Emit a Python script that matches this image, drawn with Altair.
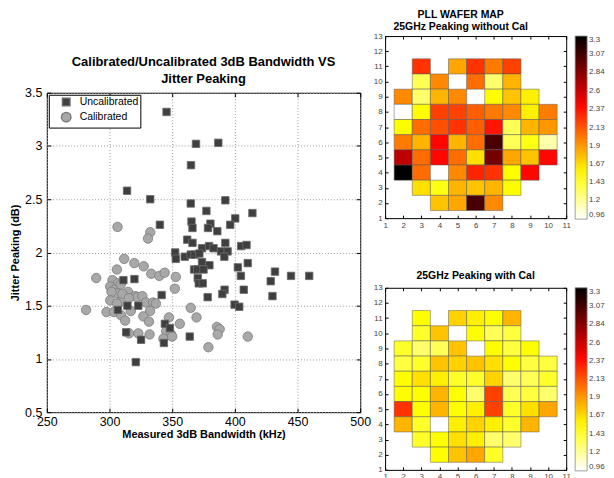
import altair as alt
import pandas as pd

FONT = "Liberation Sans"

# ---------------- scatter data ----------------
uncal_bw = [345.5, 369, 386.8, 365, 314, 332.5, 392.4, 364.8, 377.3, 414, 400.3, 340.2, 365.4, 366.2,
            380.5, 378.6, 386, 396.3, 362, 366.2, 392.4, 405, 409.3, 373.8, 379.4, 383, 352.4, 352.9,
            360, 364.8, 367.8, 371.7, 388.9, 394.2, 391.6, 373.8, 379.7, 410.3, 367.5, 370, 375, 402.4,
            432, 404.8, 444.8, 459.3, 428.6, 370.4, 371.2, 374.4, 391.8, 407.1, 390, 378.3, 430, 399.8,
            403.5, 311.1, 319.9, 341.6, 314.3, 323, 306.7, 344.2, 348.2, 313.3, 325.2, 343.4, 364, 321]
uncal_pk = [3.32, 3.02, 3.03, 2.82, 2.58, 2.50, 2.49, 2.46, 2.39, 2.37, 2.32, 2.26, 2.29, 2.23,
            2.27, 2.23, 2.20, 2.26, 2.12, 2.09, 2.09, 2.06, 2.07, 2.04, 2.06, 2.04, 2.00, 1.94,
            1.96, 1.98, 1.98, 1.99, 2.01, 2.01, 1.96, 1.91, 1.88, 1.90, 1.84, 1.84, 1.84, 1.86,
            1.82, 1.78, 1.78, 1.78, 1.73, 1.76, 1.71, 1.71, 1.65, 1.65, 1.61, 1.58, 1.59, 1.51,
            1.49, 1.74, 1.75, 1.60, 1.50, 1.50, 1.46, 1.33, 1.29, 1.25, 1.18, 1.15, 1.21, 0.97]
cal_bw = [306.4, 332.5, 330.7, 311.7, 319.8, 327.3, 305.9, 333.3, 339.7, 344, 352.9, 289.4, 302.4,
          306.7, 300.5, 303.7, 305.9, 301.6, 309, 314.8, 310.3, 320.6, 322.2, 326.2, 300.6, 308,
          315.4, 329.1, 334.7, 337, 332.3, 281.3, 297.6, 303.5, 309.3, 312.5, 317, 327, 331.5,
          347.4, 356.1, 345.2, 349.2, 315.6, 323, 332, 343, 350, 364.8, 369.4, 352.1, 385.7,
          387.9, 386.3, 410.3, 378.9, 305.9]
cal_pk = [2.24, 2.19, 2.13, 1.94, 1.90, 1.87, 1.84, 1.80, 1.78, 1.81, 1.77, 1.76, 1.74,
          1.71, 1.68, 1.65, 1.62, 1.63, 1.70, 1.63, 1.61, 1.59, 1.58, 1.59, 1.55, 1.53,
          1.57, 1.53, 1.53, 1.52, 1.45, 1.46, 1.44, 1.44, 1.41, 1.36, 1.45, 1.40, 1.35,
          1.39, 1.33, 1.26, 1.23, 1.24, 1.24, 1.23, 1.19, 1.21, 1.48, 1.39, 1.66, 1.30,
          1.28, 1.23, 1.21, 1.11, 1.52]
series_names = ["Uncalibrated", "Calibrated"]
x_ticks = [250, 300, 350, 400, 450, 500]
y_ticks = [0.5, 1, 1.5, 2, 2.5, 3, 3.5]

# ---------------- wafer map data ----------------
die_col = [3, 5, 6, 7, 8,
           3, 4, 6, 7, 8,
           2, 3, 4, 5, 7, 8, 9,
           2, 3, 4, 5, 6, 7, 8, 9, 10,
           2, 3, 4, 5, 6, 7, 8, 9, 10,
           2, 3, 4, 5, 6, 7, 8, 9, 10,
           2, 3, 4, 5, 6, 7, 8, 9, 10,
           2, 3, 5, 6, 7, 8, 9,
           3, 4, 5, 6, 7, 8,
           4, 5, 6, 7]
die_row = [11] * 5 + [10] * 5 + [9] * 7 + [8] * 9 + [7] * 9 + [6] * 9 + [5] * 9 + [4] * 7 + [3] * 6 + [2] * 4
peak_uncal = [2.25, 1.85, 2.25, 2.0, 2.2,
              1.35, 1.95, 2.05, 1.3, 1.8,
              1.95, 1.3, 1.8, 1.95, 1.55, 1.75, 1.6,
              0.96, 1.55, 2.2, 2.2, 2.1, 2.0, 1.95, 1.6, 2.0,
              1.55, 2.05, 2.15, 2.25, 2.1, 2.35, 1.35, 1.8, 1.9,
              2.0, 1.8, 2.4, 1.8, 2.05, 3.05, 1.35, 1.5, 1.15,
              2.65, 2.05, 2.4, 2.05, 1.65, 2.9, 1.85, 1.75, 2.4,
              3.3, 2.05, 1.95, 2.3, 2.25, 1.55, 2.4,
              1.65, 1.5, 1.8, 1.75, 1.8, 1.55,
              1.75, 1.85, 3.05, 1.95]
peak_cal = [1.55, 1.7, 1.6, 1.55, 1.8,
            1.45, 1.75, 1.55, 1.35, 1.4,
            1.45, 1.3, 1.35, 1.75, 1.55, 1.4, 1.55,
            1.4, 1.45, 1.75, 1.7, 1.75, 1.65, 1.55, 1.4, 1.4,
            1.55, 1.65, 1.6, 1.45, 1.45, 1.7, 1.3, 1.35, 1.45,
            1.55, 1.55, 1.8, 1.55, 1.3, 2.2, 1.35, 1.4, 1.3,
            2.25, 1.55, 1.8, 1.55, 1.6, 2.2, 1.45, 1.65, 1.85,
            1.8, 1.45, 1.6, 1.7, 1.6, 1.45, 1.8,
            1.45, 1.55, 1.65, 1.6, 1.3, 1.3,
            1.55, 1.75, 1.85, 1.45]
wafer_x_ticks = list(range(1, 12))
wafer_y_ticks = list(range(1, 14))
cbar_ticks = [0.96, 1.2, 1.43, 1.67, 1.9, 2.13, 2.37, 2.6, 2.84, 3.07, 3.3]
hot_domain = [0.96, 1.545, 2.4225, 3.3]
hot_range = ["#ffffff", "#ffff00", "#ff0000", "#000000"]

# ---------------- scatter chart ----------------
scatter_df = pd.DataFrame({
    "bw": cal_bw + uncal_bw,
    "pk": cal_pk + uncal_pk,
    "series": ["Calibrated"] * len(cal_bw) + ["Uncalibrated"] * len(uncal_bw),
})
sx = alt.Scale(domain=[250, 500], nice=False, zero=False)
sy = alt.Scale(domain=[0.5, 3.5], nice=False, zero=False)

points = alt.Chart(scatter_df).mark_point(filled=True, opacity=1, strokeWidth=0.8, strokeOpacity=1).encode(
    x=alt.X("bw:Q", scale=sx,
            axis=alt.Axis(values=x_ticks, title="Measured 3dB Bandwidth (kHz)", grid=True,
                          gridDash=[1, 2], gridColor="#9a9a9a", ticks=True, tickSize=4, offset=-4,
                          tickColor="#000", domain=False, labelFlush=False,
                          labelFontSize=12.5, labelColor="#000", labelPadding=3,
                          titleFontSize=11, titleFontWeight="bold", titlePadding=1, titleColor="#000")),
    y=alt.Y("pk:Q", scale=sy,
            axis=alt.Axis(values=y_ticks, format="~g", title="Jitter Peaking (dB)", grid=True,
                          gridDash=[1, 2], gridColor="#9a9a9a", ticks=True, tickSize=4, offset=-4,
                          tickColor="#000", domain=False, labelFlush=False,
                          labelFontSize=12.5, labelColor="#000", labelPadding=5,
                          titleFontSize=11, titleFontWeight="bold", titlePadding=4, titleColor="#000")),
    color=alt.Color("series:N", scale=alt.Scale(domain=series_names, range=["#3f3f3f", "#a8a8a8"]),
                    legend=alt.Legend(title=None, orient="top-left", offset=2, strokeColor="#000",
                                      fillColor="#fff", padding=2, symbolOffset=10, labelFontSize=10.5,
                                      labelColor="#000", rowPadding=0, labelOffset=8)),
    shape=alt.Shape("series:N", scale=alt.Scale(domain=series_names, range=["square", "circle"]), legend=alt.Legend(title=None)),
    size=alt.Size("series:N", scale=alt.Scale(domain=series_names, range=[56, 90]), legend=alt.Legend(title=None)),
    stroke=alt.Stroke("series:N", scale=alt.Scale(domain=series_names, range=["#6a6a6a", "#7a7a7a"]), legend=alt.Legend(title=None)),
)

frame_ticks = alt.Chart(scatter_df).mark_point(opacity=0).encode(
    x=alt.X("bw:Q", scale=sx,
            axis=alt.Axis(orient="top", values=x_ticks, labels=False, title=None, grid=False, domain=False,
                          ticks=True, tickSize=4, offset=-4, tickColor="#000", minExtent=0, maxExtent=0)),
    y=alt.Y("pk:Q", scale=sy,
            axis=alt.Axis(orient="right", values=y_ticks, labels=False, title=None, grid=False, domain=False,
                          ticks=True, tickSize=4, offset=-4, tickColor="#000", minExtent=0, maxExtent=0)),
)

scatter = alt.layer(points, frame_ticks).resolve_axis(x="independent", y="independent").properties(
    width=315, height=321,
    title=alt.Title(["Calibrated/Uncalibrated 3dB Bandwidth VS", "Jitter Peaking"],
                    fontSize=13, fontWeight="bold", lineHeight=17, offset=1, color="#000"),
)

spacer = alt.Chart(pd.DataFrame({"v": [0]})).mark_point(opacity=0).properties(
    width=1, height=1, view=alt.ViewBackground(strokeOpacity=0))

left = alt.vconcat(spacer, scatter, spacing=15).resolve_scale(
    color="independent", shape="independent", size="independent", stroke="independent")


# ---------------- wafer maps ----------------
def wafer(values, title_lines, dx, title_offset):
    df = pd.DataFrame({"col": die_col, "row": die_row, "peak": values})
    wx = alt.Scale(domain=[1, 11], nice=False, zero=False)
    wy = alt.Scale(domain=[1, 13], nice=False, zero=False)
    base = alt.Chart(df).transform_calculate(
        x0="datum.col - 0.5", x1="datum.col + 0.5", y0="datum.row - 0.5", y1="datum.row + 0.5"
    )
    cells = base.mark_rect(stroke="#555", strokeWidth=0.6, strokeOpacity=0.8).encode(
        x=alt.X("x0:Q", scale=wx,
                axis=alt.Axis(values=wafer_x_ticks, title=None, ticks=True, tickSize=3, offset=-3,
                              tickColor="#000", domain=False, grid=False, labelFlush=False,
                              labelFontSize=8, labelColor="#444", labelPadding=3)),
        x2="x1:Q",
        y=alt.Y("y0:Q", scale=wy,
                axis=alt.Axis(values=wafer_y_ticks, title=None, ticks=True, tickSize=3, offset=-3,
                              tickColor="#000", domain=False, grid=False, labelFlush=False,
                              labelFontSize=8, labelColor="#444", labelPadding=3)),
        y2="y1:Q",
        color=alt.Color("peak:Q", scale=alt.Scale(domain=hot_domain, range=hot_range, interpolate="rgb"),
                        legend=alt.Legend(title=None, values=cbar_ticks, format=".3~g", gradientLength=184,
                                          gradientThickness=12, gradientStrokeColor="#888",
                                          gradientStrokeWidth=0.8, labelFontSize=8, labelColor="#444",
                                          labelOffset=2, offset=8)),
    )
    edge_ticks = base.mark_rect(opacity=0).encode(
        x=alt.X("x0:Q", scale=wx,
                axis=alt.Axis(orient="top", values=wafer_x_ticks, labels=False, title=None, ticks=True,
                              tickSize=3, offset=-3, tickColor="#000", domain=False, grid=False,
                              minExtent=0, maxExtent=0)),
        x2="x1:Q",
        y=alt.Y("y0:Q", scale=wy,
                axis=alt.Axis(orient="right", values=wafer_y_ticks, labels=False, title=None, ticks=True,
                              tickSize=3, offset=-3, tickColor="#000", domain=False, grid=False,
                              minExtent=0, maxExtent=0)),
        y2="y1:Q",
    )
    return alt.layer(cells, edge_ticks).resolve_axis(x="independent", y="independent").properties(
        width=182, height=183,
        title=alt.Title(title_lines, fontSize=10.5, fontWeight="bold", lineHeight=12, offset=title_offset,
                        dx=dx, color="#000"),
    )


heat1 = wafer(peak_uncal, ["PLL WAFER MAP", "25GHz Peaking without Cal"], -15, 0)
heat2 = wafer(peak_cal, ["25GHz Peaking with Cal"], 0, 2.5)

right = alt.vconcat(heat1, heat2, spacing=70, bounds="flush").resolve_scale(color="independent")

chart = alt.hconcat(left, right, spacing=1).resolve_scale(
    color="independent", shape="independent", size="independent", stroke="independent"
).properties(padding={"left": 1, "top": 0, "right": 0, "bottom": 0}).configure(
    font=FONT
).configure_view(stroke="#000", strokeWidth=1).configure_title(font=FONT, anchor="middle")

chart.save("out.html", embed_options={"renderer": "svg", "actions": False})
